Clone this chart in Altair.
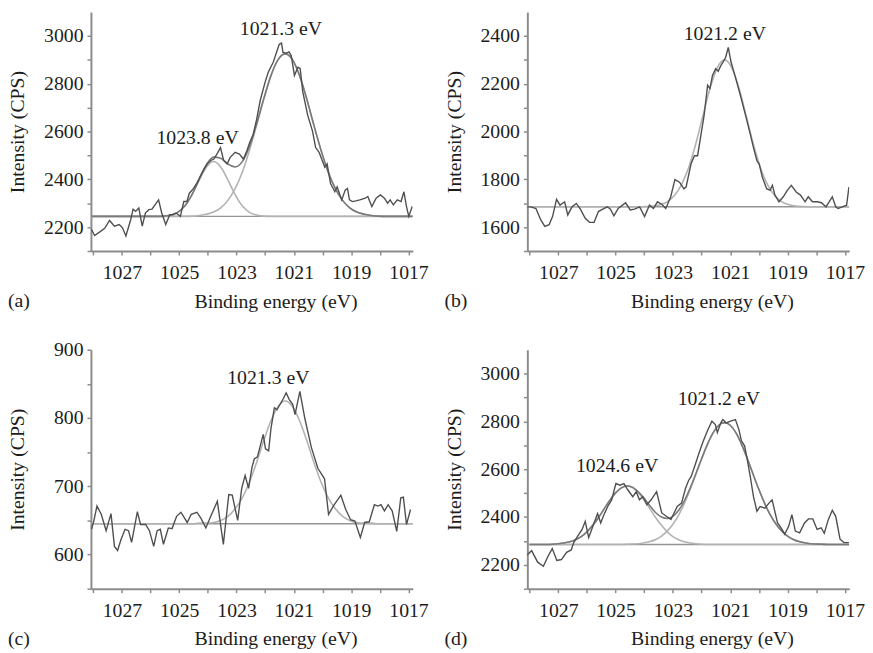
import altair as alt
import pandas as pd

FONT = "Liberation Serif"
TXT = "#1c1c1c"
AXIS_C = "#8c8c8c"
RAW_C = "#4f4f4f"
ENV_C = "#7a7a7a"
COMP_C = "#b2b2b2"
BASE_C = "#959595"

W, H = 326, 242

x_domain = [1016.85, 1028.08]
x_ticks = [1017, 1018, 1019, 1020, 1021, 1022, 1023, 1024, 1025, 1026, 1027, 1028]
base_e = [1028.08, 1016.85]

# ---------------- panel (a) ----------------
raw_a = [
    (1028.06, 2190), (1027.95, 2165), (1027.77, 2180), (1027.6, 2195), (1027.43, 2228),
    (1027.26, 2204), (1027.09, 2211), (1026.98, 2197), (1026.86, 2163), (1026.69, 2232),
    (1026.61, 2275), (1026.52, 2266), (1026.41, 2280), (1026.29, 2204), (1026.18, 2259),
    (1026.06, 2273), (1025.95, 2275), (1025.72, 2314), (1025.61, 2259), (1025.47, 2211),
    (1025.33, 2252), (1025.22, 2252), (1025.11, 2259), (1024.96, 2245), (1024.84, 2307),
    (1024.73, 2307), (1024.65, 2341), (1024.5, 2362), (1024.36, 2389), (1024.25, 2417),
    (1024.13, 2444), (1024.02, 2465), (1023.9, 2479), (1023.79, 2485), (1023.65, 2513),
    (1023.56, 2533), (1023.45, 2479), (1023.33, 2465), (1023.22, 2492), (1023.05, 2513),
    (1022.9, 2506), (1022.76, 2485), (1022.64, 2520), (1022.54, 2554), (1022.42, 2588),
    (1022.3, 2650), (1022.17, 2732), (1022.0, 2808), (1021.89, 2849), (1021.72, 2890),
    (1021.51, 2965), (1021.43, 2970), (1021.38, 2931), (1021.26, 2928), (1021.17, 2933),
    (1021.09, 2917), (1020.98, 2835), (1020.86, 2869), (1020.78, 2864), (1020.69, 2767),
    (1020.52, 2670), (1020.35, 2602), (1020.24, 2533), (1020.12, 2513), (1020.01, 2479),
    (1019.92, 2451), (1019.84, 2465), (1019.72, 2382), (1019.57, 2348), (1019.49, 2369),
    (1019.41, 2341), (1019.33, 2314), (1019.21, 2355), (1019.13, 2362), (1019.06, 2314),
    (1018.96, 2307), (1018.83, 2310), (1018.7, 2314), (1018.51, 2321), (1018.42, 2328),
    (1018.28, 2286), (1018.13, 2321), (1017.98, 2335), (1017.84, 2321), (1017.73, 2300),
    (1017.64, 2314), (1017.53, 2293), (1017.39, 2314), (1017.26, 2307), (1017.16, 2348),
    (1017.07, 2286), (1016.99, 2245), (1016.87, 2286),
]
fit_e_a = [1028.05, 1025.8, 1025.55, 1025.3, 1025.05, 1024.8, 1024.55, 1024.3, 1024.05, 1023.8,
           1023.55, 1023.3, 1023.05, 1022.8, 1022.55, 1022.3, 1022.05, 1021.8, 1021.55, 1021.3,
           1021.05, 1020.8, 1020.55, 1020.3, 1020.05, 1019.8, 1019.55, 1019.3, 1019.05, 1018.8,
           1018.55, 1018.3, 1018.05, 1017.8, 1016.86]
main_a = [2245, 2245, 2245, 2245, 2245, 2245, 2246, 2249, 2254, 2263,
          2281, 2312, 2361, 2430, 2521, 2626, 2736, 2834, 2901, 2925,
          2901, 2834, 2736, 2626, 2521, 2430, 2361, 2312, 2281, 2263,
          2254, 2249, 2246, 2245, 2245]
side_a = [2245, 2245, 2246, 2251, 2262, 2289, 2336, 2397, 2452, 2475,
          2452, 2397, 2336, 2289, 2262, 2251, 2246, 2245, 2245, 2245,
          2245, 2245, 2245, 2245, 2245, 2245, 2245, 2245, 2245, 2245,
          2245, 2245, 2245, 2245, 2245]
env_a = [2245, 2245, 2246, 2251, 2262, 2289, 2337, 2401, 2461, 2493,
         2488, 2464, 2452, 2474, 2538, 2632, 2737, 2834, 2901, 2925,
         2901, 2834, 2736, 2626, 2521, 2430, 2361, 2312, 2281, 2263,
         2254, 2249, 2246, 2245, 2245]
base_a = [2245, 2245]
lab_a = ["1021.3 eV", "1023.8 eV"]
lab_e_a = [1021.45, 1024.36]
lab_i_a = [3027, 2574]

# ---------------- panel (b) ----------------
raw_b = [
    (1028.12, 1685), (1027.95, 1685), (1027.78, 1678), (1027.61, 1630), (1027.47, 1603),
    (1027.32, 1610), (1027.2, 1644), (1027.06, 1716), (1026.94, 1692), (1026.78, 1706),
    (1026.67, 1651), (1026.52, 1685), (1026.37, 1699), (1026.23, 1675), (1026.06, 1637),
    (1025.91, 1620), (1025.75, 1620), (1025.6, 1665), (1025.45, 1675), (1025.29, 1685),
    (1025.18, 1675), (1025.06, 1647), (1024.91, 1678), (1024.78, 1690), (1024.65, 1702),
    (1024.49, 1672), (1024.34, 1675), (1024.16, 1685), (1023.99, 1644), (1023.82, 1692),
    (1023.68, 1678), (1023.54, 1706), (1023.39, 1696), (1023.25, 1678), (1023.08, 1726),
    (1022.93, 1799), (1022.77, 1788), (1022.62, 1761), (1022.54, 1768), (1022.37, 1864),
    (1022.25, 1899), (1022.14, 1899), (1022.02, 1988), (1021.91, 2070), (1021.79, 2194),
    (1021.71, 2180), (1021.62, 2235), (1021.51, 2263), (1021.42, 2252), (1021.33, 2276),
    (1021.25, 2290), (1021.16, 2311), (1021.07, 2352), (1020.97, 2290), (1020.82, 2228),
    (1020.65, 2153), (1020.47, 2070), (1020.3, 1988), (1020.19, 1933), (1020.07, 1878),
    (1019.99, 1864), (1019.88, 1809), (1019.73, 1761), (1019.61, 1754), (1019.53, 1775),
    (1019.44, 1734), (1019.3, 1706), (1019.15, 1727), (1019.01, 1754), (1018.87, 1775),
    (1018.7, 1747), (1018.55, 1734), (1018.39, 1706), (1018.28, 1727), (1018.13, 1706),
    (1017.96, 1706), (1017.82, 1702), (1017.66, 1685), (1017.55, 1706), (1017.44, 1727),
    (1017.32, 1685), (1017.24, 1678), (1017.09, 1685), (1016.94, 1692), (1016.86, 1768),
]
fit_e_b = [1028.08, 1024.2, 1023.95, 1023.7, 1023.45, 1023.2, 1022.95, 1022.7, 1022.45, 1022.2,
           1021.95, 1021.7, 1021.45, 1021.2, 1020.95, 1020.7, 1020.45, 1020.2, 1019.95, 1019.7,
           1019.45, 1019.2, 1018.95, 1018.7, 1018.45, 1018.2, 1016.85]
fit_b = [1685, 1685, 1686, 1688, 1694, 1706, 1732, 1778, 1850, 1950,
         2068, 2183, 2268, 2300, 2268, 2183, 2068, 1950, 1850, 1778,
         1732, 1706, 1694, 1688, 1686, 1685, 1685]
base_b = [1685, 1685]
lab_b = ["1021.2 eV"]
lab_e_b = [1021.19]
lab_i_b = [2407]

# ---------------- panel (c) ----------------
raw_c = [
    (1028.06, 637), (1027.98, 649), (1027.87, 671), (1027.72, 659), (1027.55, 635),
    (1027.38, 660), (1027.26, 612), (1027.15, 606), (1027.03, 622), (1026.89, 637),
    (1026.77, 635), (1026.66, 618), (1026.46, 663), (1026.35, 644), (1026.17, 644),
    (1026.04, 635), (1025.89, 612), (1025.77, 635), (1025.66, 637), (1025.55, 615),
    (1025.38, 639), (1025.25, 638), (1025.09, 656), (1024.94, 662), (1024.72, 647),
    (1024.58, 659), (1024.38, 662), (1024.24, 653), (1024.07, 639), (1023.9, 656),
    (1023.67, 678), (1023.46, 615), (1023.27, 688), (1023.15, 687), (1022.96, 650),
    (1022.82, 697), (1022.7, 716), (1022.58, 697), (1022.46, 728), (1022.38, 740),
    (1022.27, 743), (1022.07, 776), (1021.99, 755), (1021.88, 752), (1021.8, 784),
    (1021.68, 815), (1021.59, 812), (1021.36, 829), (1021.27, 837), (1021.16, 827),
    (1021.04, 820), (1020.96, 805), (1020.79, 839), (1020.62, 800), (1020.39, 757),
    (1020.16, 726), (1020.05, 719), (1019.93, 711), (1019.79, 659), (1019.59, 673),
    (1019.36, 687), (1019.19, 666), (1019.02, 651), (1018.87, 649), (1018.68, 625),
    (1018.53, 647), (1018.37, 648), (1018.19, 673), (1018.07, 671), (1017.96, 673),
    (1017.84, 664), (1017.71, 673), (1017.57, 664), (1017.41, 634), (1017.27, 683),
    (1017.18, 684), (1017.07, 644), (1016.93, 666),
]
fit_e_c = [1028.05, 1024.55, 1024.3, 1024.05, 1023.8, 1023.55, 1023.3, 1023.05, 1022.8, 1022.55,
           1022.3, 1022.05, 1021.8, 1021.55, 1021.3, 1021.05, 1020.8, 1020.55, 1020.3, 1020.05,
           1019.8, 1019.55, 1019.3, 1019.05, 1018.8, 1018.55, 1018.3, 1018.05, 1016.86]
fit_c = [645, 645, 646, 646, 647, 650, 656, 667, 683, 706,
         735, 767, 796, 817, 825, 817, 796, 767, 735, 706,
         683, 667, 656, 650, 647, 646, 646, 645, 645]
base_c = [645, 645]
lab_c = ["1021.3 eV"]
lab_e_c = [1021.89]
lab_i_c = [858]

# ---------------- panel (d) ----------------
raw_d = [
    (1028.12, 2238), (1027.93, 2259), (1027.72, 2211), (1027.52, 2194), (1027.35, 2238),
    (1027.21, 2268), (1027.05, 2218), (1026.89, 2222), (1026.71, 2252), (1026.55, 2262),
    (1026.46, 2293), (1026.35, 2315), (1026.17, 2348), (1026.06, 2382), (1025.94, 2314),
    (1025.77, 2369), (1025.63, 2414), (1025.52, 2375), (1025.43, 2403), (1025.26, 2448),
    (1025.14, 2470), (1024.99, 2540), (1024.85, 2533), (1024.71, 2540), (1024.57, 2513),
    (1024.4, 2485), (1024.28, 2506), (1024.17, 2472), (1024.05, 2485), (1023.91, 2451),
    (1023.76, 2472), (1023.57, 2506), (1023.39, 2417), (1023.23, 2403), (1023.07, 2390),
    (1022.96, 2417), (1022.85, 2444), (1022.7, 2458), (1022.56, 2520), (1022.45, 2554),
    (1022.37, 2568), (1022.25, 2609), (1022.08, 2671), (1021.96, 2712), (1021.8, 2760),
    (1021.64, 2801), (1021.52, 2787), (1021.45, 2753), (1021.33, 2794), (1021.26, 2808),
    (1021.14, 2794), (1020.99, 2801), (1020.82, 2808), (1020.7, 2767), (1020.61, 2719),
    (1020.5, 2698), (1020.42, 2650), (1020.3, 2568), (1020.19, 2485), (1020.07, 2424),
    (1019.96, 2444), (1019.79, 2437), (1019.65, 2458), (1019.54, 2472), (1019.35, 2375),
    (1019.21, 2351), (1019.1, 2328), (1018.96, 2362), (1018.85, 2410), (1018.73, 2341),
    (1018.58, 2334), (1018.41, 2375), (1018.27, 2392), (1018.12, 2392), (1017.97, 2348),
    (1017.83, 2355), (1017.72, 2332), (1017.58, 2389), (1017.44, 2428), (1017.32, 2403),
    (1017.17, 2307), (1017.03, 2293), (1016.86, 2293),
]
fit_e_d = [1028.0, 1027.8, 1027.6, 1027.4, 1027.2, 1027.0, 1026.8, 1026.6, 1026.4, 1026.2,
           1026.0, 1025.8, 1025.6, 1025.4, 1025.2, 1025.0, 1024.8, 1024.6, 1024.4, 1024.2,
           1024.0, 1023.8, 1023.6, 1023.4, 1023.2, 1023.0, 1022.8, 1022.6, 1022.4, 1022.2,
           1022.0, 1021.8, 1021.6, 1021.4, 1021.2, 1021.0, 1020.8, 1020.6, 1020.4, 1020.2,
           1020.0, 1019.8, 1019.6, 1019.4, 1019.2, 1019.0, 1018.8, 1018.6, 1018.4, 1018.2,
           1018.0, 1017.8, 1017.6, 1017.4, 1017.2, 1017.0, 1016.85]
side_d = [2285, 2285, 2285, 2285, 2286, 2288, 2291, 2296, 2305, 2318,
          2338, 2365, 2397, 2434, 2470, 2501, 2522, 2530, 2522, 2501,
          2470, 2434, 2397, 2365, 2338, 2318, 2305, 2296, 2291, 2288,
          2286, 2285, 2285, 2285, 2285, 2285, 2285, 2285, 2285, 2285,
          2285, 2285, 2285, 2285, 2285, 2285, 2285, 2285, 2285, 2285,
          2285, 2285, 2285, 2285, 2285, 2285, 2285]
main_d = [2285, 2285, 2285, 2285, 2285, 2285, 2285, 2285, 2285, 2285,
          2285, 2285, 2285, 2285, 2285, 2285, 2285, 2286, 2287, 2288,
          2292, 2297, 2306, 2320, 2341, 2370, 2408, 2457, 2515, 2578,
          2643, 2703, 2752, 2784, 2795, 2784, 2752, 2703, 2643, 2578,
          2515, 2457, 2408, 2370, 2341, 2320, 2306, 2297, 2292, 2288,
          2287, 2286, 2285, 2285, 2285, 2285, 2285]
env_d = [2285, 2285, 2285, 2285, 2286, 2288, 2291, 2296, 2305, 2318,
         2338, 2365, 2397, 2434, 2470, 2501, 2522, 2531, 2524, 2504,
         2477, 2446, 2418, 2400, 2394, 2403, 2428, 2468, 2521, 2581,
         2644, 2703, 2752, 2784, 2795, 2784, 2752, 2703, 2643, 2578,
         2515, 2457, 2408, 2370, 2341, 2320, 2306, 2297, 2292, 2288,
         2287, 2286, 2285, 2285, 2285, 2285, 2285]
base_d = [2285, 2285]
lab_d = ["1021.2 eV", "1024.6 eV"]
lab_e_d = [1021.4, 1024.95]
lab_i_d = [2893, 2612]


def panel(tag, raw, fit_e, comps, envelope, base_i, labs, lab_e, lab_i,
          y_domain, y_ticks, y_step):
    xenc = alt.X(
        "E:Q",
        scale=alt.Scale(domain=x_domain, reverse=True, nice=False, zero=False),
        axis=alt.Axis(
            values=x_ticks, format="d",
            labelExpr="datum.value % 2 == 1 ? datum.label : ''",
            title="Binding energy (eV)", titleFont=FONT, titleFontSize=20,
            titleFontWeight="normal", titleColor=TXT, titleX=W / 2 + 24, titleY=57,
            titleAlign="center", titleBaseline="alphabetic",
            labelFont=FONT, labelFontSize=20, labelColor=TXT, labelBaseline="alphabetic",
            labelPadding=24, labelFlush=False, labelOverlap=False,
            tickSize=4, tickColor=AXIS_C, tickWidth=1.5,
            domainColor=AXIS_C, domainWidth=2, grid=False,
        ),
    )
    yenc = alt.Y(
        "I:Q",
        scale=alt.Scale(domain=y_domain, nice=False, zero=False),
        axis=alt.Axis(
            values=y_ticks, format="d",
            labelExpr=f"datum.value % {y_step} == 0 ? datum.label : ''",
            title="Intensity (CPS)", titleFont=FONT, titleFontSize=20,
            titleFontWeight="normal", titleColor=TXT, titleX=-68, titleY=H / 2,
            titleAngle=270, titleAlign="center", titleBaseline="alphabetic",
            labelFont=FONT, labelFontSize=20, labelColor=TXT, labelPadding=4,
            labelFlush=False, labelOverlap=False,
            tickSize=4, tickColor=AXIS_C, tickWidth=1.5,
            domainColor=AXIS_C, domainWidth=2, grid=False,
        ),
    )
    layers = []
    base_df = pd.DataFrame({"E": base_e, "I": base_i})
    layers.append(alt.Chart(base_df).mark_line(color=BASE_C, strokeWidth=1.5, clip=True)
                  .encode(x=xenc, y=yenc))
    for comp in comps:
        cdf = pd.DataFrame({"E": fit_e, "I": comp})
        layers.append(alt.Chart(cdf).mark_line(color=COMP_C, strokeWidth=1.6,
                                               interpolate="monotone", clip=True)
                      .encode(x=xenc, y=yenc, order=alt.Order("E:Q")))
    if envelope is not None:
        edf = pd.DataFrame({"E": fit_e, "I": envelope})
        layers.append(alt.Chart(edf).mark_line(color=ENV_C, strokeWidth=1.6,
                                               interpolate="monotone", clip=True)
                      .encode(x=xenc, y=yenc, order=alt.Order("E:Q")))
    rdf = pd.DataFrame(raw, columns=["E", "I"])
    layers.append(alt.Chart(rdf).mark_line(color=RAW_C, strokeWidth=1.4, clip=True)
                  .encode(x=xenc, y=yenc, order=alt.Order("E:Q")))
    ldf = pd.DataFrame({"E": lab_e, "I": lab_i, "t": labs})
    layers.append(alt.Chart(ldf).mark_text(font=FONT, fontSize=20, color=TXT,
                                           align="center", baseline="middle")
                  .encode(x=xenc, y=yenc, text="t:N"))
    tdf = pd.DataFrame({"t": [tag]})
    layers.append(alt.Chart(tdf).mark_text(font=FONT, fontSize=20, color=TXT,
                                           align="left", baseline="alphabetic")
                  .encode(x=alt.value(-84), y=alt.value(H + 57), text="t:N"))
    return alt.layer(*layers).properties(width=W, height=H)


pa = panel("(a)", raw_a, fit_e_a, [main_a, side_a], env_a, base_a, lab_a, lab_e_a, lab_i_a,
           [2100, 3100], list(range(2100, 3001, 100)), 200)
pb = panel("(b)", raw_b, fit_e_b, [fit_b], None, base_b, lab_b, lab_e_b, lab_i_b,
           [1500, 2500], list(range(1500, 2401, 100)), 200)
pc = panel("(c)", raw_c, fit_e_c, [fit_c], None, base_c, lab_c, lab_e_c, lab_i_c,
           [550, 900], list(range(550, 901, 50)), 100)
pd_ = panel("(d)", raw_d, fit_e_d, [main_d, side_d], env_d, base_d, lab_d, lab_e_d, lab_i_d,
            [2100, 3100], list(range(2100, 3001, 100)), 200)

chart = (
    alt.concat(pa, pb, pc, pd_, columns=2, spacing={"row": 100, "column": 116}, bounds="flush")
    .properties(padding={"left": 0, "top": 0, "right": 0, "bottom": 0}, background="white")
    .configure_view(strokeWidth=0)
)

chart.save("out.html", embed_options={"renderer": "svg", "actions": False})
